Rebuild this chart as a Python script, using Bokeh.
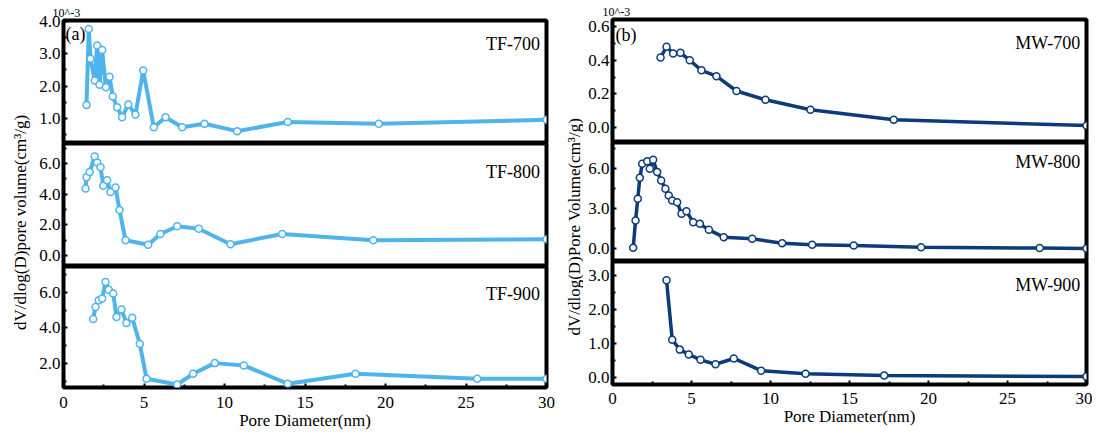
import math
from bokeh.plotting import figure
from bokeh.layouts import row, column
from bokeh.models import Label, FixedTicker, PrintfTickFormatter, Range1d
from bokeh.embed import file_html
from bokeh.resources import INLINE

# ---------------- data ----------------
tf700_x = [1.43, 1.57, 1.68, 1.94, 2.09, 2.24, 2.40, 2.63, 2.86, 3.06, 3.33, 3.64, 4.02, 4.47, 4.95,
           5.61, 6.34, 7.37, 8.76, 10.79, 13.93, 19.58, 30.0]
tf700_y = [1.42, 3.76, 2.84, 2.17, 3.25, 2.04, 3.11, 1.96, 2.29, 1.68, 1.35, 1.04, 1.43, 1.12, 2.48,
           0.73, 1.04, 0.73, 0.84, 0.61, 0.89, 0.84, 0.96]

tf800_x = [1.37, 1.43, 1.63, 1.94, 2.09, 2.30, 2.47, 2.71, 2.92, 3.23, 3.48, 3.85, 5.26, 6.02, 7.06,
           8.40, 10.37, 13.58, 19.24, 30.0]
tf800_y = [4.38, 5.11, 5.45, 6.46, 6.06, 5.76, 4.55, 4.91, 4.14, 4.44, 2.97, 1.01, 0.71, 1.41, 1.92,
           1.76, 0.75, 1.41, 1.01, 1.07]

tf900_x = [1.84, 1.99, 2.19, 2.40, 2.61, 2.81, 3.09, 3.29, 3.60, 3.91, 4.27, 4.74, 5.16, 7.06, 8.05,
           9.40, 11.20, 13.93, 18.14, 25.70, 30.0]
tf900_y = [4.50, 5.17, 5.55, 5.65, 6.58, 6.15, 5.93, 4.61, 5.03, 4.27, 4.57, 3.10, 1.14, 0.82, 1.42,
           2.02, 1.89, 0.86, 1.42, 1.14, 1.14]

mw700_x = [3.04, 3.42, 3.84, 4.30, 4.89, 5.63, 6.58, 7.85, 9.68, 12.53, 17.80, 30.0]
mw700_y = [0.416, 0.48, 0.44, 0.444, 0.40, 0.34, 0.305, 0.217, 0.165, 0.106, 0.046, 0.012]

mw800_x = [1.31, 1.46, 1.60, 1.73, 1.88, 2.20, 2.36, 2.57, 2.83, 3.08, 3.35, 3.56, 3.78, 4.09, 4.37,
           4.68, 5.11, 5.53, 6.10, 7.04, 8.84, 10.74, 12.64, 15.27, 19.53, 27.04, 30.0]
mw800_y = [0.05, 2.10, 3.73, 5.30, 6.35, 6.55, 5.98, 6.65, 5.73, 5.10, 4.48, 3.98, 3.60, 3.47, 2.60,
           2.80, 1.97, 1.85, 1.40, 0.85, 0.73, 0.40, 0.28, 0.22, 0.10, 0.03, 0.0]

mw900_x = [3.42, 3.78, 4.26, 4.83, 5.57, 6.52, 7.68, 9.41, 12.22, 17.20, 30.0]
mw900_y = [2.85, 1.10, 0.81, 0.67, 0.51, 0.38, 0.55, 0.19, 0.10, 0.05, 0.02]

x_ticks = [0, 5, 10, 15, 20, 25, 30]
x_minor = [2.5, 7.5, 12.5, 17.5, 22.5, 27.5]

names_tf = ["TF-700", "TF-800", "TF-900"]
names_mw = ["MW-700", "MW-800", "MW-900"]

# ---------------- style ----------------
SERIF = "Liberation Serif"
TF_COLOR = "#4FB4EC"
MW_COLOR = "#0B3B7A"


def panel(xs, ys, color, yrange, ticks, minor, name, name_y, frame_w, frame_h,
          left, right, top, bottom, show_x=False, lw=4.0, xstand=9):
    p = figure(width=left + frame_w + right, height=top + frame_h + bottom,
               x_range=Range1d(0, 30), y_range=Range1d(*yrange),
               output_backend="svg", toolbar_location=None)
    p.min_border_left = left
    p.min_border_right = right
    p.min_border_top = top
    p.min_border_bottom = bottom
    p.background_fill_color = "white"
    p.border_fill_color = "white"
    p.outline_line_color = "black"
    p.outline_line_width = 4
    p.grid.visible = False

    p.line(xs, ys, line_color=color, line_width=lw)
    p.scatter(xs, ys, marker="circle", size=7, fill_color="white",
              line_color=color, line_width=1.5)

    ya = p.yaxis[0]
    ya.ticker = FixedTicker(ticks=ticks, minor_ticks=minor)
    ya.formatter = PrintfTickFormatter(format="%.1f")
    ya.axis_line_color = None
    ya.major_tick_in = 4
    ya.major_tick_out = 0
    ya.minor_tick_in = 3
    ya.minor_tick_out = 0
    ya.major_tick_line_width = 2
    ya.minor_tick_line_width = 2
    ya.major_label_text_font = SERIF
    ya.major_label_text_font_size = "17px"
    ya.major_label_text_color = "black"
    ya.major_label_standoff = 3

    xa = p.xaxis[0]
    if show_x:
        xa.ticker = FixedTicker(ticks=x_ticks, minor_ticks=x_minor)
        xa.axis_line_color = None
        xa.major_tick_in = 4
        xa.major_tick_out = 0
        xa.minor_tick_in = 3
        xa.minor_tick_out = 0
        xa.major_tick_line_width = 2
        xa.minor_tick_line_width = 2
        xa.major_label_text_font = SERIF
        xa.major_label_text_font_size = "17px"
        xa.major_label_text_color = "black"
        xa.major_label_standoff = xstand
        xa.axis_label = "Pore Diameter(nm)"
        xa.axis_label_text_font = SERIF
        xa.axis_label_text_font_size = "17px"
        xa.axis_label_text_font_style = "normal"
        xa.axis_label_text_color = "black"
        xa.axis_label_standoff = 0
    else:
        xa.visible = False

    p.add_layout(Label(x=29.6, y=name_y, text=name, text_align="right",
                       text_baseline="middle", text_font=SERIF,
                       text_font_size="18px", text_color="black"))
    return p


def exponent_title(p, offset):
    p.title.text = "10^-3"
    p.title.align = "left"
    p.title.offset = offset
    p.title.standoff = 2
    p.title.text_font = SERIF
    p.title.text_font_size = "12px"
    p.title.text_font_style = "normal"
    p.title.text_color = "black"


# ---------- left column (TF) ----------
TFW, TFL, TFR = 483, 31, 18
tf_a = panel(tf700_x, tf700_y, TF_COLOR, (0.23, 4.02), [1, 2, 3, 4], [0.5, 1.5, 2.5, 3.5],
             names_tf[0], 3.31, TFW, 123, TFL, TFR, 20, 0)
tf_b = panel(tf800_x, tf800_y, TF_COLOR, (-0.7, 7.3), [0, 2, 4, 6], [1, 3, 5, 7],
             names_tf[1], 5.44, TFW, 123, TFL, TFR, 0, 0)
tf_c = panel(tf900_x, tf900_y, TF_COLOR, (0.65, 7.45), [2, 4, 6], [1, 3, 5, 7],
             names_tf[2], 5.93, TFW, 121, TFL, TFR, 0, 48, show_x=True, xstand=9)

exponent_title(tf_a, -11)
tf_a.add_layout(Label(x=0.12, y=3.59, text="(a)", text_align="left", text_baseline="middle",
                      text_font=SERIF, text_font_size="18px", text_color="black"))

# ---------- right column (MW) ----------
MWW, MWL, MWR = 474, 29, 6
mw_a = panel(mw700_x, mw700_y, MW_COLOR, (-0.089, 0.642), [0.0, 0.2, 0.4, 0.6], [0.1, 0.3, 0.5],
             names_mw[0], 0.505, MWW, 123, MWL, MWR, 19, 0, lw=3.5)
mw_b = panel(mw800_x, mw800_y, MW_COLOR, (-0.975, 7.95), [0, 3, 6], [1.5, 4.5, 7.5],
             names_mw[1], 6.49, MWW, 119, MWL, MWR, 0, 0, lw=3.5)
mw_c = panel(mw900_x, mw900_y, MW_COLOR, (-0.215, 3.40), [0, 1, 2, 3], [0.5, 1.5, 2.5],
             names_mw[2], 2.72, MWW, 123, MWL, MWR, 0, 51, show_x=True, lw=3.5, xstand=8)

exponent_title(mw_a, -10)
mw_a.add_layout(Label(x=0.19, y=0.55, text="(b)", text_align="left", text_baseline="middle",
                      text_font=SERIF, text_font_size="18px", text_color="black"))

TOTAL_H = 435


def ylabel_fig(width, text, xfrac, yfrac):
    f = figure(width=width, height=TOTAL_H, x_range=Range1d(0, 1), y_range=Range1d(0, 1),
               output_backend="svg", toolbar_location=None)
    f.min_border_left = f.min_border_right = f.min_border_top = f.min_border_bottom = 0
    f.outline_line_color = None
    f.axis.visible = False
    f.grid.visible = False
    f.background_fill_color = "white"
    f.border_fill_color = "white"
    f.add_layout(Label(x=xfrac, y=yfrac, text=text, angle=math.pi / 2, text_align="center",
                       text_baseline="middle", text_font=SERIF, text_font_size="17px",
                       text_color="black"))
    return f


yl_left = ylabel_fig(32, "dV/dlog(D)pore volume(cm³/g)", 0.62, 0.49)
yl_right = ylabel_fig(19, "dV/dlog(D)Pore Volume(cm³/g)", 0.55, 0.48)

layout = row(yl_left, column(tf_a, tf_b, tf_c, spacing=0),
             yl_right, column(mw_a, mw_b, mw_c, spacing=0), spacing=0)

open("out.html", "w").write(file_html(layout, INLINE))
